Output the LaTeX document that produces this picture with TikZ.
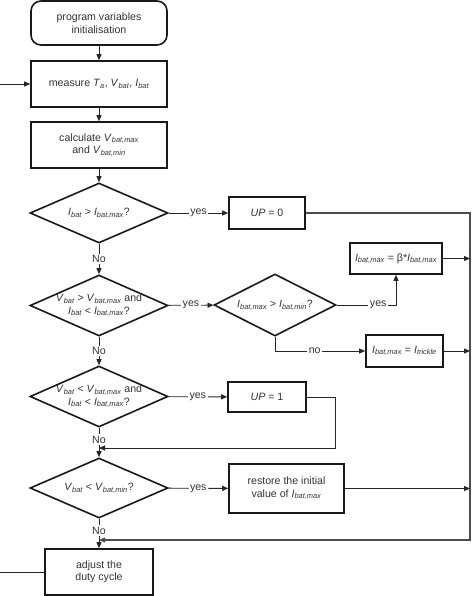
\documentclass[tikz,border=0pt]{standalone}
\usepackage{fontspec}
\setmainfont{Liberation Sans}
\usetikzlibrary{shapes.geometric,arrows.meta}
\newcommand{\ix}[1]{\textsubscript{\itshape #1}}

\begin{document}
\begin{tikzpicture}[x=1pt, y=-1pt, font=\fontsize{10.6}{12.5}\selectfont, text=black!80,
    box/.style={draw=black!90, line width=1.6pt, align=center, inner sep=0pt},
    dec/.style={draw=black!90, diamond, line width=1.6pt, align=center, inner sep=-12pt,
      minimum width=138pt, minimum height=60pt},
    conn/.style={draw=black!85, line width=0.9pt},
    arr/.style={conn, -{Triangle[length=6pt,width=5pt]}},
    lab/.style={fill=white, inner sep=1.5pt}]
  \useasboundingbox (0,0) rectangle (474,596);
  \node[box, rounded corners=10pt, minimum width=136pt, minimum height=44pt] (start) at (99,23) {program variables\\initialisation};
  \node[box, minimum width=136pt, minimum height=46pt] (meas) at (99,84) {measure \textit{T}\ix{a}, \textit{V}\ix{bat}, \textit{I}\ix{bat}};
  \node[box, minimum width=136pt, minimum height=46pt] (calc) at (99,145) {calculate \textit{V}\ix{bat,max}\\and \textit{V}\ix{bat,min}};
  \node[dec] (d1) at (99,213) {\textit{I}\ix{bat} > \textit{I}\ix{bat,max}?};
  \node[box, minimum width=76pt, minimum height=32pt] (up0) at (267,213) {\textit{UP} = 0};
  \node[dec, minimum height=61pt] (d2) at (99,305.5) {\textit{V}\ix{bat} > \textit{V}\ix{bat,max} and\\\textit{I}\ix{bat} < \textit{I}\ix{bat,max}?};
  \node[dec, minimum width=122pt, minimum height=62pt] (d3) at (275,305) {\textit{I}\ix{bat,max} > \textit{I}\ix{bat,min}?};
  \node[box, minimum width=92pt, minimum height=31pt] (beta) at (396,258.5) {\textit{I}\ix{bat,max} = β*\textit{I}\ix{bat,max}};
  \node[box, minimum width=77pt, minimum height=32pt] (trickle) at (404.5,351) {\textit{I}\ix{bat,max} = \textit{I}\ix{trickle}};
  \node[dec, minimum height=61pt] (d4) at (99,396.5) {\textit{V}\ix{bat} < \textit{V}\ix{bat,max} and\\\textit{I}\ix{bat} < \textit{I}\ix{bat,max}?};
  \node[box, minimum width=78pt, minimum height=30pt] (up1) at (267,397) {\textit{UP} = 1};
  \node[dec] (d5) at (99,488) {\textit{V}\ix{bat} < \textit{V}\ix{bat,min}?};
  \node[box, minimum width=115pt, minimum height=49pt] (restore) at (286.5,488.5) {restore the initial\\value of \textit{I}\ix{bat,max}};
  \node[box, minimum width=108pt, minimum height=46pt] (adj) at (99,572) {adjust the\\duty cycle};
  \coordinate (inL) at (0,84);
  \coordinate (outL) at (0,572);
  \coordinate (rt) at (470,213);
  \coordinate (rb) at (470,540);
  \coordinate (j1) at (99,448);
  \coordinate (j2) at (99,540);
  \draw[arr] (start) -- (meas);
  \draw[arr] (inL) -- (meas);
  \draw[arr] (meas) -- (calc);
  \draw[arr] (calc) -- (d1);
  \draw[arr] (d1) -- node[lab] {yes} (up0);
  \draw[arr] (d1) -- node[lab] {No} (d2);
  \draw[arr] (d2) -- node[lab] {yes} (d3);
  \draw[arr] (d3.east) -- node[lab, pos=0.7] {yes} (beta.south |- d3.east) -- (beta.south);
  \draw[arr] (d3.south) |- node[lab, pos=0.72] {no} (trickle.west);
  \draw[arr] (d2) -- node[lab] {No} (d4);
  \draw[arr] (d4) -- node[lab] {yes} (up1);
  \draw[arr] (up1.east) -- ++(29,0) |- (j1);
  \draw[arr] (d4) -- node[lab, pos=0.4] {No} (d5);
  \draw[arr] (d5) -- node[lab] {yes} (restore);
  \draw[arr] (d5) -- node[lab, pos=0.4] {No} (adj);
  \draw[arr, draw=black!70, line width=1.2pt] (up0.east) -- (rt) -- (rb) -- (j2);
  \draw[arr] (beta.east) -- (rt |- beta.east);
  \draw[arr] (trickle.east) -- (rt |- trickle.east);
  \draw[arr] (restore.east) -- (rt |- restore.east);
  \draw[conn] (adj.west) -- (outL);
\end{tikzpicture}
\end{document}
